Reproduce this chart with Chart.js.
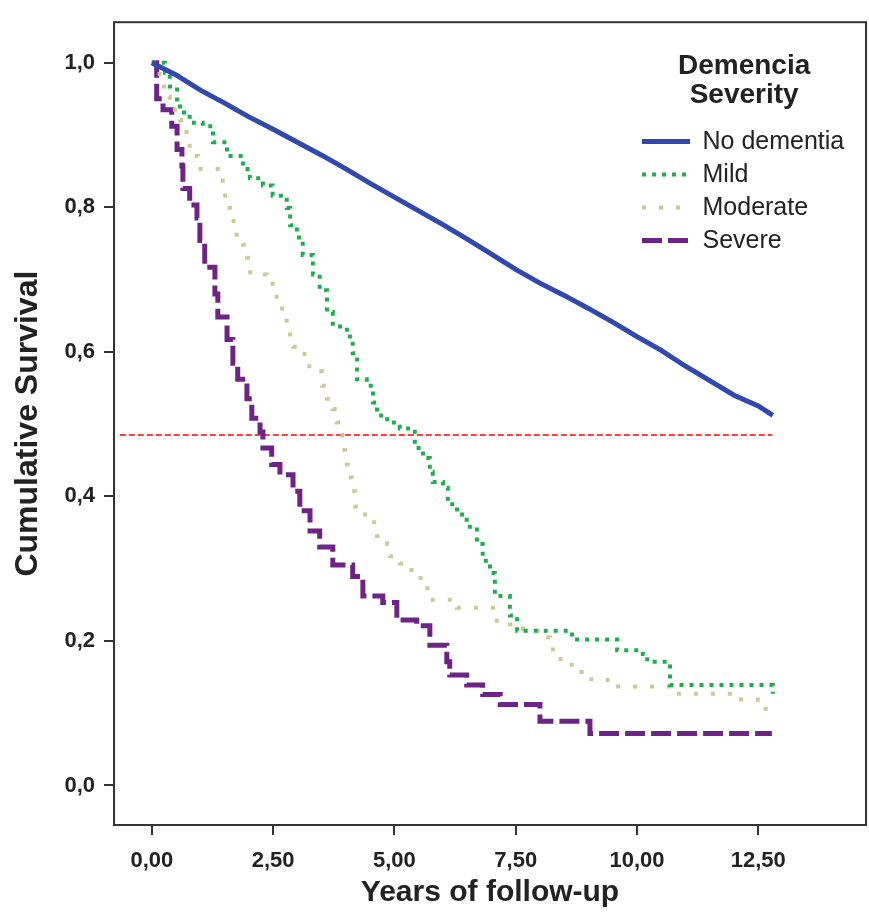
<!DOCTYPE html>
<html>
<head>
<meta charset="utf-8">
<script src="https://cdn.jsdelivr.net/npm/chart.js@4.4.1/dist/chart.umd.min.js"></script>
<style>
  html, body { margin: 0; padding: 0; background: #fff; }
  canvas { display: block; }
</style>
</head>
<body>
<canvas id="ChartForSurvival" width="869" height="917"></canvas>
<script>
// axis ticks
var xTicks = [0, 2.5, 5, 7.5, 10, 12.5];
var xTickLabels = ['0,00', '2,50', '5,00', '7,50', '10,00', '12,50'];
var yTicks = [0, 0.2, 0.4, 0.6, 0.8, 1.0];
var yTickLabels = ['0,0', '0,2', '0,4', '0,6', '0,8', '1,0'];

var seriesNames = ['No dementia', 'Mild', 'Moderate', 'Severe'];

// No dementia
var noDementiaTime = [0, 0.5, 1.0, 1.5, 2.0, 2.5, 3.0, 3.5, 4.0, 4.5, 5.0, 5.5, 6.0, 6.5, 7.0, 7.5, 8.0, 8.5, 9.0, 9.5, 10.0, 10.5, 11.0, 11.5, 12.0, 12.5, 12.8];
var noDementiaSurv = [1.0, 0.983, 0.962, 0.944, 0.925, 0.908, 0.89, 0.872, 0.853, 0.833, 0.814, 0.795, 0.776, 0.756, 0.735, 0.714, 0.695, 0.678, 0.66, 0.641, 0.621, 0.602, 0.58, 0.56, 0.54, 0.525, 0.512];

// Mild
var mildTime = [0, 0.27, 0.37, 0.52, 0.58, 0.78, 1.05, 1.26, 1.55, 1.88, 2.02, 2.29, 2.49, 2.78, 2.85, 2.99, 3.11, 3.32, 3.46, 3.61, 3.73, 4.02, 4.14, 4.23, 4.43, 4.56, 4.64, 4.85, 5.11, 5.38, 5.42, 5.59, 5.73, 5.79, 6.0, 6.10, 6.29, 6.49, 6.70, 6.82, 6.97, 7.07, 7.38, 7.53, 8.62, 8.66, 9.44, 9.59, 10.12, 10.21, 10.54, 10.68, 12.74, 12.80];
var mildSurv = [1.0, 0.986, 0.967, 0.949, 0.931, 0.917, 0.912, 0.89, 0.871, 0.853, 0.84, 0.83, 0.816, 0.799, 0.775, 0.758, 0.734, 0.707, 0.685, 0.655, 0.635, 0.621, 0.598, 0.562, 0.553, 0.53, 0.512, 0.502, 0.494, 0.494, 0.467, 0.453, 0.434, 0.42, 0.412, 0.389, 0.375, 0.358, 0.334, 0.311, 0.294, 0.262, 0.235, 0.214, 0.212, 0.202, 0.202, 0.187, 0.182, 0.171, 0.171, 0.139, 0.139, 0.127];

// Moderate
var moderateTime = [0, 0.16, 0.31, 0.37, 0.58, 0.60, 0.72, 0.85, 0.95, 1.26, 1.36, 1.46, 1.51, 1.61, 1.75, 1.88, 1.96, 1.98, 2.29, 2.37, 2.49, 2.64, 2.78, 2.91, 3.09, 3.20, 3.42, 3.51, 3.61, 3.73, 3.81, 3.84, 3.92, 3.98, 4.04, 4.12, 4.19, 4.35, 4.54, 4.64, 4.85, 4.91, 5.11, 5.28, 5.48, 5.63, 5.73, 6.0, 6.29, 6.97, 7.11, 7.38, 7.65, 7.86, 8.04, 8.21, 8.35, 8.56, 8.76, 8.97, 9.30, 9.51, 10.54, 10.74, 11.77, 11.98, 12.27, 12.49, 12.80];
var moderateSurv = [1.0, 0.967, 0.953, 0.935, 0.921, 0.904, 0.885, 0.871, 0.853, 0.853, 0.837, 0.822, 0.799, 0.781, 0.762, 0.748, 0.73, 0.71, 0.707, 0.694, 0.676, 0.66, 0.624, 0.607, 0.597, 0.58, 0.573, 0.553, 0.535, 0.521, 0.502, 0.485, 0.464, 0.444, 0.426, 0.407, 0.386, 0.375, 0.364, 0.345, 0.334, 0.317, 0.307, 0.298, 0.287, 0.273, 0.257, 0.257, 0.246, 0.246, 0.228, 0.223, 0.216, 0.214, 0.205, 0.188, 0.175, 0.167, 0.157, 0.147, 0.146, 0.137, 0.137, 0.127, 0.127, 0.119, 0.119, 0.106, 0.106];

// Severe
var severeTime = [0, 0.10, 0.23, 0.41, 0.52, 0.62, 0.64, 0.78, 0.93, 0.99, 1.09, 1.30, 1.36, 1.55, 1.67, 1.77, 1.96, 2.06, 2.23, 2.29, 2.47, 2.64, 2.91, 3.05, 3.26, 3.46, 3.73, 4.14, 4.35, 4.76, 5.05, 5.46, 5.73, 6.08, 6.14, 6.49, 6.82, 7.18, 8.0, 9.03, 12.78];
var severeSurv = [1.0, 0.95, 0.935, 0.912, 0.88, 0.857, 0.826, 0.803, 0.785, 0.754, 0.717, 0.68, 0.648, 0.617, 0.584, 0.562, 0.535, 0.508, 0.489, 0.467, 0.444, 0.43, 0.407, 0.38, 0.352, 0.33, 0.305, 0.289, 0.262, 0.253, 0.229, 0.221, 0.194, 0.171, 0.153, 0.139, 0.126, 0.112, 0.089, 0.072, 0.072];

// red dashed reference line (median)
var medianTime = [-0.66, 12.79];
var medianSurv = [0.485, 0.485];

function toPoints(t, s) {
    return t.map(function (v, i) { return { x: v, y: s[i] }; });
}

Chart.defaults.font.family = "'Liberation Sans', Arial, sans-serif";
Chart.defaults.color = '#222';

var frameBox = {
    id: 'frameBox',
    afterDatasetsDraw: function (chart) {
        var a = chart.chartArea, ctx = chart.ctx;
        ctx.save();
        ctx.strokeStyle = '#333';
        ctx.lineWidth = 2;
        ctx.strokeRect(a.left, a.top, a.right - a.left, a.bottom - a.top);
        ctx.restore();
    }
};

// put the legend in the upper right of the plot
var legendSpot = {
    id: 'legendSpot',
    beforeDraw: function (chart) {
        var lg = chart.legend;
        var w = lg.width;
        lg.left = 634;
        lg.top = 52;
        lg.right = 634 + w;
        lg.bottom = 52 + 300;
        lg.height = 300;
    }
};

var ctx = document.getElementById('ChartForSurvival').getContext('2d');

var ChartForSurvival = new Chart(ctx, {
    type: 'line',
    data: {
        datasets: [{
            label: seriesNames[0],
            data: toPoints(noDementiaTime, noDementiaSurv),
            borderColor: '#3149ad',
            borderWidth: 5,
            pointRadius: 0,
            tension: 0
        }, {
            label: seriesNames[1],
            data: toPoints(mildTime, mildSurv),
            borderColor: '#1eae4e',
            borderWidth: 4,
            borderDash: [4, 6],
            pointRadius: 0,
            stepped: true
        }, {
            label: seriesNames[2],
            data: toPoints(moderateTime, moderateSurv),
            borderColor: '#cdc996',
            borderWidth: 4,
            borderDash: [4, 13],
            pointRadius: 0,
            stepped: true
        }, {
            label: seriesNames[3],
            data: toPoints(severeTime, severeSurv),
            borderColor: '#6e2386',
            borderWidth: 5,
            borderDash: [20, 6],
            pointRadius: 0,
            stepped: true
        }, {
            label: 'median',
            data: toPoints(medianTime, medianSurv),
            borderColor: '#ff0000',
            borderWidth: 1.5,
            borderDash: [6, 3],
            pointRadius: 0
        }]
    },
    options: {
        responsive: false,
        animation: false,
        devicePixelRatio: 1,
        layout: {
            padding: { left: 0, right: 3, top: 12, bottom: 0 }
        },
        plugins: {
            tooltip: { enabled: false },
            legend: {
                position: 'chartArea',
                align: 'start',
                labels: {
                    usePointStyle: true,
                    pointStyle: 'line',
                    pointStyleWidth: 48,
                    padding: 8,
                    color: '#222',
                    font: { size: 25 },
                    generateLabels: function (chart) {
                        return chart.data.datasets.slice(0, 4).map(function (ds, i) {
                            return {
                                text: ds.label,
                                datasetIndex: i,
                                fillStyle: ds.borderColor,
                                strokeStyle: ds.borderColor,
                                lineWidth: ds.borderWidth,
                                lineDash: ds.borderDash || [],
                                pointStyle: 'line',
                                fontColor: '#222',
                                hidden: false
                            };
                        });
                    }
                },
                title: {
                    display: true,
                    text: ['Demencia', 'Severity'],
                    color: '#222',
                    font: { size: 28, weight: 'bold', lineHeight: 1.04 },
                    padding: { top: 0, bottom: 40 }
                }
            }
        },
        scales: {
            x: {
                type: 'linear',
                min: -0.78,
                max: 14.72,
                afterBuildTicks: function (scale) {
                    scale.ticks = xTicks.map(function (v) { return { value: v }; });
                },
                afterFit: function (scale) { scale.height = 92; },
                grid: { drawOnChartArea: false, drawTicks: true, tickLength: 10, color: '#333', lineWidth: 2 },
                border: { display: false },
                ticks: {
                    padding: 13,
                    maxRotation: 0,
                    font: { size: 22, weight: 'bold' },
                    callback: function (v, i) { return xTickLabels[i]; }
                },
                title: {
                    display: true,
                    text: 'Years of follow-up',
                    font: { size: 30, weight: 'bold', lineHeight: 1.2 },
                    padding: { top: 0, bottom: 6 }
                }
            },
            y: {
                type: 'linear',
                min: -0.0547,
                max: 1.056,
                afterBuildTicks: function (scale) {
                    scale.ticks = yTicks.map(function (v) { return { value: v }; });
                },
                afterFit: function (scale) { scale.width = 114; },
                grid: { drawOnChartArea: false, drawTicks: true, tickLength: 10, color: '#333', lineWidth: 2 },
                border: { display: false },
                ticks: {
                    padding: 9,
                    font: { size: 22, weight: 'bold' },
                    callback: function (v, i) { return yTickLabels[i]; }
                },
                title: {
                    display: true,
                    text: 'Cumulative Survival',
                    font: { size: 32, weight: 'bold', lineHeight: 1.2 },
                    padding: { top: 9, bottom: 0 }
                }
            }
        }
    },
    plugins: [frameBox, legendSpot]
});
</script>
</body>
</html>
